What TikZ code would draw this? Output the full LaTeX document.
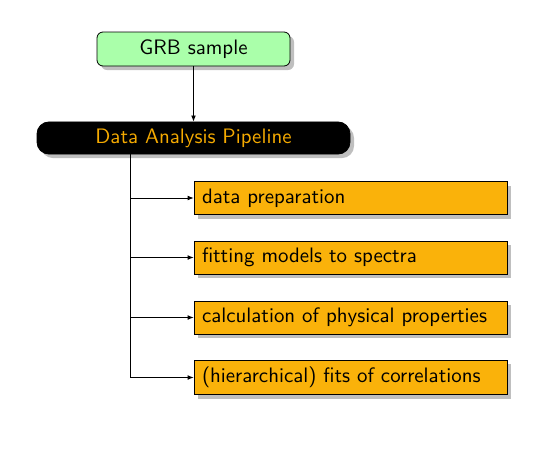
\documentclass[tikz,border=0pt]{standalone}
\usetikzlibrary{shadows,arrows.meta}
\definecolor{boxorange}{RGB}{250,178,10}
\definecolor{txtorange}{RGB}{245,170,0}
\definecolor{boxgreen}{RGB}{170,255,170}
\newcommand{\myfont}{\sffamily\fontsize{10.45}{12.5}\selectfont}
\tikzset{
  shad/.style={drop shadow={shadow xshift=2pt,shadow yshift=-2pt,fill=black!25,opacity=1}},
  startbox/.style={draw,fill=boxgreen,rounded corners=3pt,minimum width=96.5pt,minimum height=17pt,shad,font=\myfont},
  pipebox/.style={draw,fill=black,text=txtorange,rounded corners=6pt,minimum width=156.5pt,minimum height=16pt,shad,font=\myfont},
  taskbox/.style={draw,fill=boxorange,minimum width=156.5pt,minimum height=16.5pt,text width=148.5pt,inner xsep=4pt,align=left,shad,font=\myfont},
  arr/.style={-{Latex[length=3pt,width=2.4pt]}}
}
\begin{document}
\begin{tikzpicture}[x=0.5pt,y=-0.5pt]
\useasboundingbox (0,0) rectangle (557,451);
\node[startbox] (grb) at (193.5,49) {GRB sample};
\node[pipebox] (pipe) at (193.5,138) {Data Analysis Pipeline};
\node[taskbox] (b1) at (350.5,198) {data preparation};
\node[taskbox] (b2) at (350.5,257.5) {fitting models to spectra};
\node[taskbox] (b3) at (350.5,317.5) {calculation of physical properties};
\node[taskbox] (b4) at (350.5,377.5) {(hierarchical) fits of correlations};
\coordinate (trunk) at (130,154);
\draw[arr] (grb) -- (pipe);
\draw (pipe.south -| trunk) -- (trunk |- b4.west);
\draw[arr] (trunk |- b1.west) -- (b1.west);
\draw[arr] (trunk |- b2.west) -- (b2.west);
\draw[arr] (trunk |- b3.west) -- (b3.west);
\draw[arr] (trunk |- b4.west) -- (b4.west);
\end{tikzpicture}
\end{document}
